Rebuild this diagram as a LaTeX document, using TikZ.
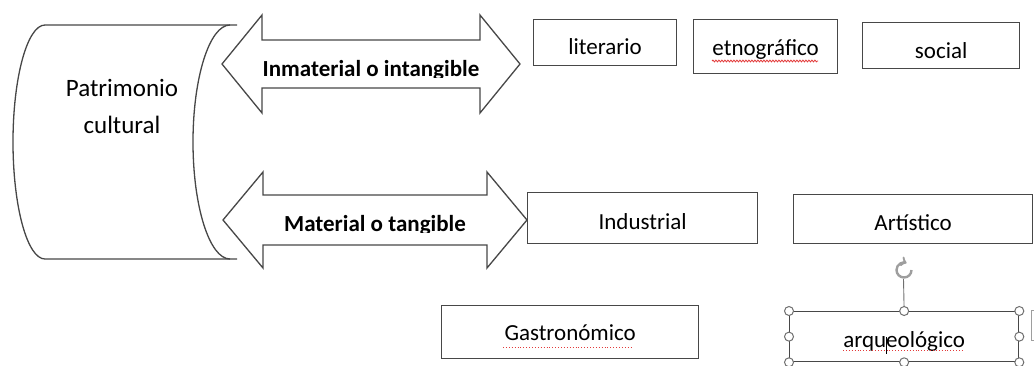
\documentclass[tikz,border=0pt]{standalone}
\usepackage{fontspec}
\setmainfont{Carlito}
\usepackage{tikz}
\usetikzlibrary{decorations.pathmorphing}
\definecolor{borde}{HTML}{474747}
\definecolor{grisasa}{HTML}{707070}
\definecolor{grisgiro}{HTML}{9E9E9E}
\definecolor{subr}{HTML}{E23A3A}

\begin{document}
\begin{tikzpicture}[x=1pt,y=-1pt,
    linea/.style={draw=borde, line width=1.3pt, line join=miter},
    caja/.style={linea, rectangle, anchor=north west, inner sep=0pt,
      font=\fontsize{23}{28}\selectfont},
    texto/.style={anchor=base, inner sep=0pt, font=\fontsize{23}{28}\selectfont},
    negrita/.style={texto, font=\fontsize{23}{28}\selectfont\bfseries},
    asa/.style={draw=grisasa, fill=white, line width=1pt}]
  \useasboundingbox (0,0) rectangle (1034,365);

  % Cylinder
  \draw[linea] (237,25) -- (45,25)
    arc[start angle=270, end angle=90, x radius=32, y radius=117] -- (237,259);
  \draw[linea] (230,25) arc[start angle=270, end angle=90, x radius=37, y radius=117];
  \node[texto, font=\fontsize{25}{30}\selectfont] (patri) at (122,96) {Patrimonio};
  \node[texto, font=\fontsize{25}{30}\selectfont] (cult) at (122,133) {cultural};

  % Arrows
  \draw[linea] (222,64) -- (262,15) -- (262,40) -- (480,40) -- (480,15) -- (520,64)
    -- (480,113) -- (480,88) -- (262,88) -- (262,113) -- cycle;
  \draw[linea] (223,220) -- (263,172) -- (263,195) -- (487,195) -- (487,172) -- (527,220)
    -- (487,268) -- (487,245) -- (263,245) -- (263,268) -- cycle;
  \begin{scope}
    \clip (262,40) rectangle (480,77);
    \node[negrita] (inm) at (371,76) {Inmaterial o intangible};
  \end{scope}
  \begin{scope}
    \clip (263,195) rectangle (487,232.5);
    \node[negrita] (mat) at (375,231.5) {Material o tangible};
  \end{scope}

  % Boxes
  \node[caja, minimum width=143pt, text height=35pt, text depth=11pt] (lit) at (533,19) {literario};
  \node[caja, minimum width=144pt, text height=36pt, text depth=18pt] (etno) at (693,19) {etnográfico};
  \node[caja, minimum width=157pt, text height=36pt, text depth=10pt] (soc) at (862,22) {social};
  \node[caja, minimum width=230pt, text height=37pt, text depth=14pt] (ind) at (527,192) {Industrial};
  \node[caja, minimum width=239pt, text height=36pt, text depth=13pt] (art) at (793,194) {Artístico};
  \node[caja, minimum width=257pt, text height=35pt, text depth=18pt] (gas) at (441,305) {Gastronómico};
  \node[caja, minimum width=229pt, text height=36pt, text depth=14pt] (arq) at (789,311) {arqueológico};

  % Spelling marks and cursor
  \draw[subr, line width=0.8pt, decorate,
    decoration={snake, amplitude=0.9pt, segment length=3pt}] (712,61) -- (818,61);
  \draw[subr, line width=0.9pt, dotted] (503,347) -- (633,347);
  \draw[subr, line width=0.9pt, dotted] (843,350) -- (964,350);
  \draw[line width=0.8pt] (886,337) -- (886,354);

  % Selection handles
  \coordinate (giro) at (904,270);
  \draw[grisasa, line width=0.9pt] (arq.north) -- (903.5,279);
  \draw[grisgiro, line width=2.4pt, ->] (giro) ++(7.5,0)
    arc[start angle=0, end angle=290, radius=7.5];
  \foreach \a in {north west, north, north east, west, east, south west, south, south east}
    \draw[asa] (arq.\a) circle (4.5);
  \draw[grisgiro, line width=0.9pt] (1034,310) -| (1031,340) -- (1034,340);
\end{tikzpicture}
\end{document}
